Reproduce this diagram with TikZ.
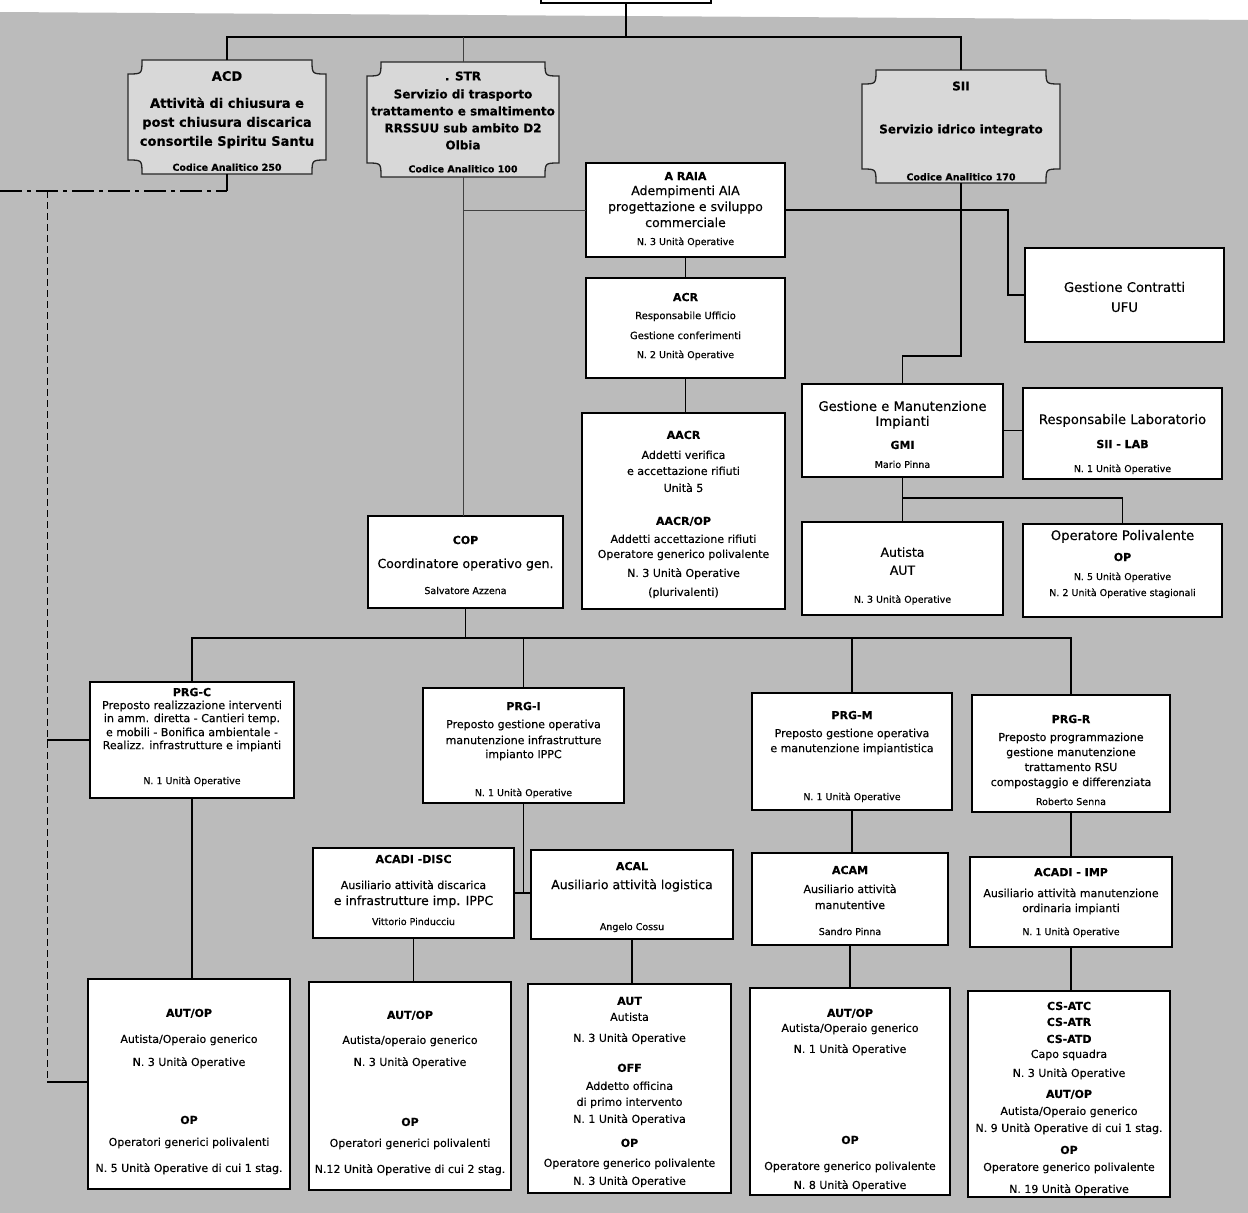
\documentclass[tikz,border=0pt]{standalone}
\usepackage{fontspec}
\setmainfont{DejaVu Sans}
\newfontfamily\bodyfam[FakeBold=0.35]{DejaVu Sans}
\usetikzlibrary{calc}
\definecolor{bggray}{RGB}{187,187,187}
\definecolor{plqgray}{RGB}{216,216,216}
\newcommand\bodyf{\bodyfam\fontsize{11}{14}\selectfont}
\newcommand\hdrf{\bodyfam\bfseries\fontsize{13}{17}\selectfont}
\newcommand\hdrsf{\bodyfam\bfseries\fontsize{12}{17}\selectfont}
\newcommand\Ttl[1]{{\bfseries\fontsize{11}{14}\selectfont #1}}
\newcommand\Sml[1]{{\fontsize{9.5}{14}\selectfont #1}}
\newcommand\Mid[1]{{\fontsize{10}{14}\selectfont #1}}
\newcommand\Lrg[1]{{\fontsize{12.5}{14}\selectfont #1}}
\newcommand\Hug[1]{{\fontsize{13.2}{14}\selectfont #1}}
\newcommand\CodeF[1]{{\fontsize{9.5}{14}\selectfont #1}}
\newcommand\plaque[4]{%
  \filldraw[plq] ({#1+14},#2) -- ({#3-14},#2)
    .. controls ({#3-14},{#2+14}) .. (#3,{#2+14}) -- (#3,{#4-14})
    .. controls ({#3-14},{#4-14}) .. ({#3-14},#4) -- ({#1+14},#4)
    .. controls ({#1+14},{#4-14}) .. (#1,{#4-14}) -- (#1,{#2+14})
    .. controls ({#1+14},{#2+14}) .. ({#1+14},#2) -- cycle;}
\newcommand\mybox[5]{%
  \node[box, minimum width={#4pt-#2pt}, minimum height={#5pt-#3pt}] (#1) at ({(#2+#4)/2},{(#3+#5)/2}) {};}
\newcommand\hdrnode[5]{%
  \node[hdrbox, minimum width={#4pt-#2pt}, minimum height={#5pt-#3pt}] (#1) at ({(#2+#4)/2},{(#3+#5)/2}) {};}
\begin{document}
\begin{tikzpicture}[x=1pt,y=-1pt,
  box/.style={draw=black, line width=1.6pt, fill=white, inner sep=0pt, outer sep=0pt},
  hdrbox/.style={inner sep=0pt, outer sep=0pt},
  plq/.style={draw=black!85, line width=1.3pt, fill=plqgray},
  txt/.style={align=center, inner sep=0pt, font=\bodyf},
  htxt/.style={align=center, inner sep=0pt, font=\hdrf},
  conn/.style={line width=1.2pt, black},
  mainconn/.style={line width=1.6pt, black},
  thinconn/.style={line width=0.7pt, black!75},
  dashdotline/.style={line width=1.4pt, black, dash pattern=on 22pt off 5pt on 4pt off 5pt},
  dashline/.style={line width=1pt, black, dash pattern=on 7pt off 4pt}]
\useasboundingbox (0,0) rectangle (1248,1213);
% background
\fill[bggray] (0,12) -- (1248,20) -- (1248,1213) -- (0,1213) -- cycle;

% top box (cut by page)
\mybox{top}{541}{-30}{711}{3}

% header plaques
\plaque{128}{60}{326}{174}
\hdrnode{acd}{128}{60}{326}{174}
\node[htxt] (t-acd) at (227,121) {ACD\\[10pt]Attività di chiusura e\\[2pt]post chiusura discarica\\[2pt]consortile Spiritu Santu\\[8pt]\CodeF{Codice Analitico 250}};

\plaque{367}{62}{559}{177}
\hdrnode{str}{367}{62}{559}{177}
\node[htxt, font=\hdrsf] (t-str) at (463,122) {. STR\\[1pt]Servizio di trasporto\\[0pt]trattamento e smaltimento\\[0pt]RRSSUU sub ambito D2\\[0pt]Olbia\\[6pt]\CodeF{Codice Analitico 100}};

\plaque{862}{70}{1060}{183}
\hdrnode{sii}{862}{70}{1060}{183}
\node[htxt, font=\hdrsf] (t-sii) at (961,131) {SII\\[26pt]Servizio idrico integrato\\[30pt]\CodeF{Codice Analitico 170}};

% boxes
\mybox{araia}{586}{163}{785}{257}
\mybox{gc}{1025}{248}{1224}{342}
\mybox{acr}{586}{278}{785}{378}
\mybox{aacr}{582}{413}{785}{609}
\mybox{cop}{368}{516}{563}{608}
\mybox{gmi}{802}{384}{1003}{477}
\mybox{lab}{1023}{388}{1222}{479}
\mybox{aut}{802}{522}{1003}{615}
\mybox{opp}{1023}{524}{1222}{617}
\mybox{prgc}{90}{682}{294}{798}
\mybox{prgi}{423}{688}{624}{803}
\mybox{prgm}{752}{693}{952}{810}
\mybox{prgr}{972}{695}{1170}{812}
\mybox{acadid}{313}{848}{514}{938}
\mybox{acal}{531}{850}{733}{939}
\mybox{acam}{752}{853}{948}{945}
\mybox{acadii}{970}{857}{1172}{947}
\mybox{b1}{88}{979}{290}{1189}
\mybox{b2}{309}{982}{511}{1190}
\mybox{b3}{528}{984}{731}{1193}
\mybox{b4}{750}{988}{950}{1195}
\mybox{b5}{968}{991}{1170}{1197}

% texts
\node[txt] (t-araia) at (685.5,209.5) {\Ttl{A RAIA}\\[1pt]\Lrg{Adempimenti AIA}\\[2pt]\Lrg{progettazione e sviluppo}\\[2pt]\Lrg{commerciale}\\[4pt]\Sml{N. 3 Unità Operative}};
\node[txt] (t-gc) at (1124.5,297) {\Hug{Gestione Contratti}\\[6pt]\Hug{UFU}};
\node[txt] (t-acr) at (685.5,326.5) {\Ttl{ACR}\\[4pt]\Mid{Responsabile Ufficio}\\[6pt]\Mid{Gestione conferimenti}\\[5pt]\Sml{N. 2 Unità Operative}};
\node[txt] (t-aacr) at (683.5,514.5) {\Ttl{AACR}\\[6pt]Addetti verifica\\[2pt]e accettazione rifiuti\\[3pt]Unità 5\\[19pt]\Ttl{AACR/OP}\\[4pt]Addetti accettazione rifiuti\\[1pt]Operatore generico polivalente\\[5pt]N. 3 Unità Operative\\[5pt](plurivalenti)};
\node[txt] (t-cop) at (465.5,565) {\Ttl{COP}\\[10pt]\Lrg{Coordinatore operativo gen.}\\[12pt]\Sml{Salvatore Azzena}};
\node[txt] (t-gmi) at (902.5,434.5) {\Hug{Gestione e Manutenzione}\\[1pt]\Hug{Impianti}\\[9pt]\Ttl{GMI}\\[5pt]\Sml{Mario Pinna}};
\node[txt] (t-lab) at (1122.5,444) {\Hug{Responsabile Laboratorio}\\[10pt]\Ttl{SII - LAB}\\[10pt]\Sml{N. 1 Unità Operative}};
\node[txt] (t-aut) at (902.5,576) {\Lrg{Autista}\\[4pt]\Lrg{AUT}\\[14pt]\Sml{N. 3 Unità Operative}};
\node[txt] (t-opp) at (1122.5,564) {\Hug{Operatore Polivalente}\\[7pt]\Ttl{OP}\\[5pt]\Sml{N. 5 Unità Operative}\\[2pt]\Sml{N. 2 Unità Operative stagionali}};
\node[txt] (t-prgc) at (192,737) {\Ttl{PRG-C}\\[-1pt]Preposto realizzazione interventi\\[-1pt]in amm. diretta - Cantieri temp.\\[0pt]e mobili - Bonifica ambientale -\\[-1pt]Realizz. infrastrutture e impianti\\[21pt]\Sml{N. 1 Unità Operative}};
\node[txt] (t-prgi) at (523.5,750) {\Ttl{PRG-I}\\[4pt]Preposto gestione operativa\\[2pt]manutenzione infrastrutture\\[0pt]impianto IPPC\\[24pt]\Sml{N. 1 Unità Operative}};
\node[txt] (t-prgm) at (852,756.5) {\Ttl{PRG-M}\\[4pt]Preposto gestione operativa\\[1pt]e manutenzione impiantistica\\[34pt]\Sml{N. 1 Unità Operative}};
\node[txt] (t-prgr) at (1071,760) {\Ttl{PRG-R}\\[4pt]Preposto programmazione\\[1pt]gestione manutenzione\\[1pt]trattamento RSU\\[1pt]compostaggio e differenziata\\[5pt]\Sml{Roberto Senna}};
\node[txt] (t-acadid) at (413.5,890) {\Ttl{ACADI -DISC}\\[12pt]Ausiliario attività discarica\\[2pt]\Lrg{e infrastrutture imp. IPPC}\\[6pt]\Sml{Vittorio Pinducciu}};
\node[txt] (t-acal) at (632,897) {\Ttl{ACAL}\\[5pt]\Lrg{Ausiliario attività logistica}\\[27pt]\Sml{Angelo Cossu}};
\node[txt] (t-acam) at (850,900.5) {\Ttl{ACAM}\\[5pt]Ausiliario attività\\[2pt]manutentive\\[12pt]\Sml{Sandro Pinna}};
\node[txt] (t-acadii) at (1071,902.5) {\Ttl{ACADI - IMP}\\[7pt]Ausiliario attività manutenzione\\[1pt]ordinaria impianti\\[9pt]\Sml{N. 1 Unità Operative}};
\node[txt] (t-b1) at (189,1091.5) {\Ttl{AUT/OP}\\[12pt]Autista/Operaio generico\\[9pt]N. 3 Unità Operative\\[44pt]\Ttl{OP}\\[8pt]Operatori generici polivalenti\\[12pt]N. 5 Unità Operative di cui 1 stag.};
\node[txt] (t-b2) at (410,1093) {\Ttl{AUT/OP}\\[11pt]Autista/operaio generico\\[8pt]N. 3 Unità Operative\\[46pt]\Ttl{OP}\\[7pt]Operatori generici polivalenti\\[12pt]N.12 Unità Operative di cui 2 stag.};
\node[txt] (t-b3) at (629.5,1092) {\Ttl{AUT}\\[2pt]Autista\\[7pt]N. 3 Unità Operative\\[16pt]\Ttl{OFF}\\[4pt]Addetto officina\\[2pt]di primo intervento\\[3pt]N. 1 Unità Operativa\\[10pt]\Ttl{OP}\\[6pt]Operatore generico polivalente\\[4pt]N. 3 Unità Operative};
\node[txt] (t-b4) at (850,1100) {\Ttl{AUT/OP}\\[1pt]Autista/Operaio generico\\[7pt]N. 1 Unità Operative\\[77pt]\Ttl{OP}\\[12pt]Operatore generico polivalente\\[5pt]N. 8 Unità Operative};
\node[txt] (t-b5) at (1069,1098.5) {\Ttl{CS-ATC}\\[2pt]\Ttl{CS-ATR}\\[3pt]\Ttl{CS-ATD}\\[1pt]Capo squadra\\[5pt]N. 3 Unità Operative\\[7pt]\Ttl{AUT/OP}\\[3pt]Autista/Operaio generico\\[3pt]N. 9 Unità Operative di cui 1 stag.\\[8pt]\Ttl{OP}\\[3pt]Operatore generico polivalente\\[8pt]N. 19 Unità Operative};

% junction coordinates
\coordinate (j1) at (626,37);
\coordinate (k1) at (1008,210);
\coordinate (k2) at ($(gmi.north)+(0,-28)$);
\coordinate (k3) at ($(gmi.south)+(0,21)$);
\coordinate (k4) at ($(cop.south)+(0,30)$);
\coordinate (d0) at (0,191);
\coordinate (d2) at (47,191);
\coordinate (d3) at (47,1082);

% connectors top level
\draw[mainconn] (top.south) -- (j1);
\draw[mainconn] (acd.north) |- (j1) -| (sii.north);
\draw[thinconn] (str.north) -- (str.north |- j1);
\draw[thinconn] (str.south) -- (str.south |- cop.north);
\draw[thinconn] (araia.west -| str.south) -- (araia.west);
\draw[conn] (araia.east) -- (k1) |- (gc.west);
\draw[conn] (sii.south) |- (k2) -- (gmi.north);
\draw[conn] (araia.south) -- (araia.south |- acr.north);
\draw[conn] (acr.south) -- (acr.south |- aacr.north);
\draw[conn] (gmi.east) -- (gmi.east -| lab.west);
\draw[conn] (gmi.south) -- (aut.north);
\draw[conn] (k3) -| (opp.north);

% COP to PRG
\draw[conn] (cop.south) -- (k4);
\draw[conn] (prgc.north) |- (k4) -| (prgr.north);
\draw[conn] (prgi.north) -- (prgi.north |- k4);
\draw[conn] (prgm.north) -- (prgm.north |- k4);

% lower levels
\draw[conn] (prgc.south) -- (prgc.south |- b1.north);
\draw[conn] (prgi.south) |- (acadid.east);
\draw[conn] (acadid.east) -- (acadid.east -| acal.west);
\draw[conn] (acadid.south) -- (acadid.south |- b2.north);
\draw[conn] (acal.south) -- (acal.south |- b3.north);
\draw[conn] (prgm.south) -- (prgm.south |- acam.north);
\draw[conn] (acam.south) -- (acam.south |- b4.north);
\draw[conn] (prgr.south) -- (prgr.south |- acadii.north);
\draw[conn] (acadii.south) -- (acadii.south |- b5.north);

% left dashed links
\draw[dashdotline] (d0) -- (acd.south |- d0);
\draw[conn] (acd.south |- d0) -- (acd.south);
\draw[dashline] (d2) -- (d3);
\draw[conn] (d3) -- (d3 -| b1.west);
\draw[conn] (prgc.west -| d2) -- (prgc.west);
\end{tikzpicture}
\end{document}
